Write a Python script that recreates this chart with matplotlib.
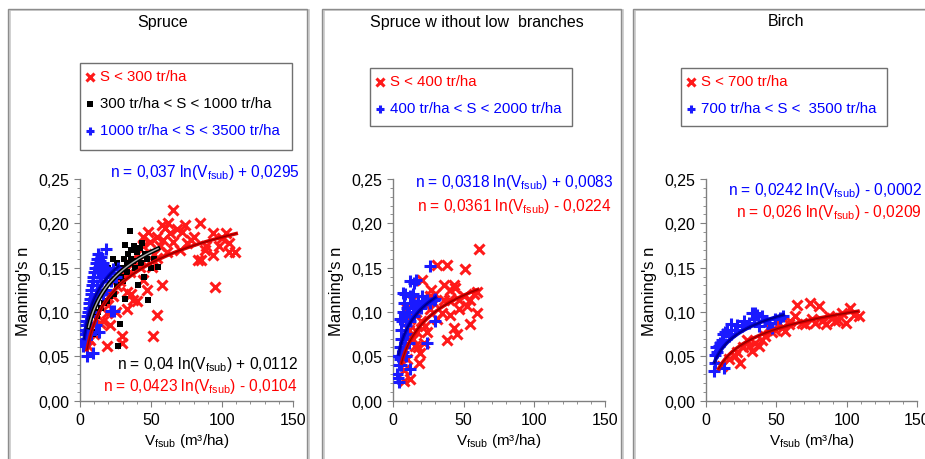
import numpy as np
import matplotlib
matplotlib.use("Agg")
import matplotlib.pyplot as plt
from matplotlib.patches import Rectangle
from matplotlib.lines import Line2D
from matplotlib.ticker import MultipleLocator

plt.rcParams["font.family"] = ["Liberation Sans", "DejaVu Sans"]
plt.rcParams["mathtext.fontset"] = "custom"
plt.rcParams["mathtext.rm"] = "Liberation Sans"

W, H = 925, 460

def px(x, y):
    return x / W, 1 - y / H

# ---- data ----
titles = ["Spruce", "Spruce w ithout low  branches", "Birch"]
yticks = [0.0, 0.05, 0.10, 0.15, 0.20, 0.25]
ytick_labels = ["0,00", "0,05", "0,10", "0,15", "0,20", "0,25"]
xticks = [0, 50, 100, 150]
xtick_labels = ["0", "50", "100", "150"]

# Spruce
sp_red = [(65.6, 0.215), (57.9, 0.198), (84.4, 0.2), (73.8, 0.198), (93.7, 0.189), (103, 0.189),
          (105, 0.178), (109, 0.168), (105, 0.168), (94, 0.164), (85.5, 0.159), (83, 0.159),
          (89, 0.174), (78.5, 0.181), (95, 0.128), (57.4, 0.13), (53.9, 0.097), (51.6, 0.073),
          (29.3, 0.065), (29.3, 0.073), (18.7, 0.062), (39.8, 0.112), (37.5, 0.113), (32.8, 0.103),
          (46.9, 0.125), (44.5, 0.136), (42.2, 0.151), (50.4, 0.151), (53.9, 0.161), (49.2, 0.179),
          (44.5, 0.185), (44.5, 0.174), (37.5, 0.155), (30.5, 0.144), (25.8, 0.129), (23.4, 0.118),
          (18.7, 0.099), (14, 0.088), (7, 0.069), (5.9, 0.062), (68, 0.194), (71.5, 0.19),
          (63.3, 0.189), (65.6, 0.179), (75, 0.178), (70.3, 0.17), (61, 0.168), (56.3, 0.174),
          (58.6, 0.181), (60, 0.195), (80, 0.185), (88, 0.17), (98, 0.175), (100, 0.183),
          (62, 0.2), (54, 0.185), (48, 0.19), (40, 0.165), (35, 0.145), (28, 0.135), (20, 0.108),
          (16, 0.09), (10, 0.075), (21, 0.085), (25, 0.1), (33, 0.123), (36, 0.12), (52, 0.165)]
sp_black = [(9, 0.075), (11, 0.078), (12, 0.095), (13, 0.1), (15, 0.105), (17, 0.11), (19, 0.112),
            (21, 0.118), (24, 0.12), (27, 0.062), (28, 0.086), (26, 0.13), (30, 0.135), (32, 0.115),
            (29, 0.14), (33, 0.145), (31, 0.16), (34, 0.165), (36, 0.17), (38, 0.175), (40, 0.168),
            (42, 0.172), (44, 0.178), (46, 0.165), (47, 0.16), (35, 0.191), (32, 0.176), (37, 0.158),
            (39, 0.15), (43, 0.155), (48, 0.114), (50, 0.15), (52, 0.16), (55, 0.151), (45, 0.14),
            (41, 0.13), (26, 0.155), (23, 0.16), (20, 0.15), (29, 0.15), (36, 0.16), (33, 0.155)]
sp_blue = [(2, 0.062), (2.5, 0.068), (3, 0.065), (3, 0.075), (3.5, 0.08), (4, 0.07), (4, 0.085),
           (4.5, 0.09), (5, 0.078), (5, 0.095), (5.5, 0.1), (6, 0.088), (6, 0.105), (6.5, 0.11),
           (7, 0.095), (7, 0.115), (7.5, 0.12), (8, 0.1), (8, 0.125), (8.5, 0.13), (9, 0.11),
           (9, 0.135), (9.5, 0.14), (10, 0.115), (10, 0.145), (10.5, 0.15), (11, 0.12), (11, 0.155),
           (12, 0.13), (12, 0.16), (12.5, 0.145), (13, 0.125), (13, 0.165), (13.5, 0.15), (14, 0.14),
           (14, 0.158), (15, 0.135), (15, 0.162), (16, 0.145), (16, 0.155), (17, 0.148), (18, 0.171),
           (18, 0.14), (19, 0.15), (20, 0.145), (21, 0.14), (22, 0.135), (23, 0.148), (24, 0.101),
           (22, 0.101), (13.5, 0.078), (9.5, 0.054), (5, 0.05), (8, 0.075), (11, 0.085), (16, 0.12),
           (18, 0.125), (25, 0.14), (27, 0.15)]

# Spruce without low branches
sl_red = [(61.2, 0.171), (51.1, 0.148), (31.1, 0.153), (38.1, 0.153), (20.5, 0.136), (35.8, 0.131),
          (42.9, 0.131), (40.5, 0.125), (44, 0.127), (46.4, 0.114), (54.6, 0.114), (59.3, 0.123),
          (59.3, 0.099), (54.6, 0.086), (42.9, 0.082), (45.4, 0.075), (38.1, 0.069), (40.5, 0.097),
          (39.3, 0.114), (28.7, 0.11), (31.1, 0.092), (24, 0.077), (21.7, 0.065), (19.3, 0.054),
          (18.1, 0.043), (12.2, 0.024), (7.5, 0.022), (13.4, 0.114), (9.9, 0.103), (12.2, 0.092),
          (17, 0.077), (15.5, 0.062), (9.9, 0.047), (22.8, 0.084), (26.4, 0.103), (24, 0.114),
          (52.3, 0.107), (57, 0.12), (49.9, 0.118), (46.4, 0.103), (35.8, 0.114), (34.6, 0.099),
          (26.4, 0.118), (16, 0.1), (20, 0.09), (14, 0.07), (18, 0.06), (11, 0.08), (30, 0.12),
          (8, 0.035), (27, 0.125)]
sl_blue = [(25.9, 0.152), (16.5, 0.136), (15, 0.133), (12.2, 0.135), (8.7, 0.12), (7, 0.121),
           (12.2, 0.118), (20.5, 0.118), (24, 0.114), (28.7, 0.114), (5.2, 0.092), (4, 0.021),
           (3.3, 0.026), (12.2, 0.036), (5.2, 0.047), (24, 0.065), (29.9, 0.09), (3, 0.03), (4, 0.04),
           (4.5, 0.05), (5, 0.06), (5.5, 0.07), (6, 0.08), (6.5, 0.09), (7, 0.1), (7.5, 0.11),
           (8, 0.06), (8.5, 0.07), (9, 0.085), (9.5, 0.095), (10, 0.105), (10, 0.075), (11, 0.1),
           (11, 0.065), (12, 0.09), (13, 0.11), (14, 0.1), (15, 0.095), (16, 0.108), (18, 0.112),
           (20, 0.105), (22, 0.11), (26, 0.11), (30, 0.115), (6, 0.04), (7, 0.055), (3.5, 0.05),
           (9, 0.05), (14, 0.12)]

# Birch
bi_red = [(64.7, 0.108), (74.2, 0.11), (80, 0.107), (102.6, 0.105), (108.5, 0.095), (87.2, 0.095),
          (96.7, 0.099), (91.9, 0.09), (77.7, 0.088), (70.6, 0.086), (63.5, 0.095), (58.8, 0.086),
          (54, 0.082), (49.3, 0.08), (42.2, 0.073), (35.1, 0.065), (30.3, 0.062), (24.4, 0.043),
          (20.9, 0.05), (16.1, 0.047), (11.4, 0.039), (29.1, 0.069), (37.4, 0.062), (46.9, 0.077),
          (56.4, 0.079), (67.9, 0.088), (82.5, 0.09), (89.6, 0.093), (99.5, 0.088), (105, 0.097),
          (39.8, 0.069), (32.7, 0.056), (26, 0.06), (60, 0.09), (85, 0.086), (94, 0.091),
          (75, 0.092), (45, 0.083), (52, 0.088), (22, 0.055)]
bi_blue = [(32.7, 0.099), (36.3, 0.097), (39.8, 0.095), (18, 0.087), (13.7, 0.077), (6.6, 0.052),
           (5.5, 0.034), (12.6, 0.037), (9, 0.062), (11.4, 0.069), (16.1, 0.073), (20.9, 0.08),
           (25.6, 0.084), (30.3, 0.088), (37.4, 0.084), (44.5, 0.088), (49.3, 0.092), (52.8, 0.093),
           (46.9, 0.082), (6.6, 0.043), (7, 0.06), (8, 0.055), (10, 0.065), (12, 0.075), (15, 0.08),
           (18, 0.075), (22, 0.085), (27, 0.09), (34, 0.092), (42, 0.09), (55, 0.095), (35, 0.099)]

# trend lines: (a, b, xmin, xmax) of n = a ln(V) + b
sp_fits = [("blue", 0.037, 0.0295, 3, 27), ("black", 0.04, 0.0112, 6, 55), ("red", 0.0423, -0.0104, 5, 110)]
sl_fits = [("blue", 0.0318, 0.0083, 4, 30), ("red", 0.0361, -0.0224, 6, 60)]
bi_fits = [("blue", 0.0242, -0.0002, 6, 55), ("red", 0.026, -0.0209, 9, 108)]

sp_eq = ["n = 0,037 ln(V$_{\\mathrm{fsub}}$) + 0,0295",
         "n = 0,04 ln(V$_{\\mathrm{fsub}}$) + 0,0112",
         "n = 0,0423 ln(V$_{\\mathrm{fsub}}$) - 0,0104"]
sl_eq = ["n = 0,0318 ln(V$_{\\mathrm{fsub}}$) + 0,0083",
         "n = 0,0361 ln(V$_{\\mathrm{fsub}}$) - 0,0224"]
bi_eq = ["n = 0,0242 ln(V$_{\\mathrm{fsub}}$) - 0,0002",
         "n = 0,026 ln(V$_{\\mathrm{fsub}}$) - 0,0209"]

sp_leg = ["S < 300 tr/ha", "300 tr/ha < S < 1000 tr/ha", "1000 tr/ha < S < 3500 tr/ha"]
sl_leg = ["S < 400 tr/ha", "400 tr/ha < S < 2000 tr/ha"]
bi_leg = ["S < 700 tr/ha", "700 tr/ha < S <  3500 tr/ha"]

RED = "#ff1a1a"
BLUE = "#1a1aff"
style = {
    "red": dict(marker="x", color=RED, ms=7, mew=2.2),
    "black": dict(marker="s", color="black", ms=5, mew=0),
    "blue": dict(marker="+", color=BLUE, ms=8, mew=2.2),
}
txtcol = {"red": "#ff0000", "black": "black", "blue": "#0000ff"}

fig = plt.figure(figsize=(W / 100, H / 100), dpi=100)

# panel frames
for x0, x1 in [(8, 307), (322, 621), (633, 945)]:
    fig.add_artist(Rectangle(px(x0 + 1.5, 475), (x1 - x0) / W, 464 / H, transform=fig.transFigure,
                             fill=False, ec="#c8c8c8", lw=1.2))
    fig.add_artist(Rectangle(px(x0, 473), (x1 - x0) / W, 463 / H, transform=fig.transFigure,
                             fill=False, ec="#8c8c8c", lw=1.0))

panels = [
    dict(left=80, right=293, title_x=163, title=titles[0],
         series=[("red", sp_red), ("black", sp_black), ("blue", sp_blue)], fits=sp_fits,
         legbox=(80, 64, 292, 151), leg=[("red", sp_leg[0]), ("black", sp_leg[1]), ("blue", sp_leg[2])],
         legy=[77, 104, 131],
         eqs=[(sp_eq[0], "blue", 300, 173), (sp_eq[1], "black", 298, 365), (sp_eq[2], "red", 298, 387)]),
    dict(left=393, right=605, title_x=477, title=titles[1],
         series=[("red", sl_red), ("blue", sl_blue)], fits=sl_fits,
         legbox=(370, 69, 572, 127), leg=[("red", sl_leg[0]), ("blue", sl_leg[1])], legy=[82, 109],
         eqs=[(sl_eq[0], "blue", 613, 183), (sl_eq[1], "red", 612, 207)]),
    dict(left=706, right=917, title_x=786, title=titles[2],
         series=[("red", bi_red), ("blue", bi_blue)], fits=bi_fits,
         legbox=(681, 69, 887, 127), leg=[("red", bi_leg[0]), ("blue", bi_leg[1])], legy=[82, 109],
         eqs=[(bi_eq[0], "blue", 922, 190), (bi_eq[1], "red", 922, 213)]),
]

top, bottom = 180, 401.7
for p in panels:
    l, b = px(p["left"], bottom)
    ax = fig.add_axes([l, b, (p["right"] - p["left"]) / W, (bottom - top) / H])
    for key, pts in p["series"]:
        xs, ys = zip(*pts)
        ax.plot(xs, ys, ls="none", **style[key], zorder=3)
    for key, a, c, x0, x1 in p["fits"]:
        xv = np.linspace(x0, x1, 100)
        yv = a * np.log(xv) + c
        if key == "black":
            ax.plot(xv, yv, color="black", lw=3.2, zorder=4)
            ax.plot(xv, yv, color="#b0b0b0", lw=1.0, zorder=5)
        elif key == "red":
            ax.plot(xv, yv, color="#e00000", lw=2.6, zorder=4)
            ax.plot(xv, yv, color="#900000", lw=0.9, zorder=5)
        else:
            ax.plot(xv, yv, color="#0000cc", lw=2.6, zorder=4)
            ax.plot(xv, yv, color="#000080", lw=0.9, zorder=5)
    ax.set_xlim(0, 150)
    ax.set_ylim(0, 0.25)
    ax.set_xticks(xticks)
    ax.set_xticklabels(xtick_labels)
    ax.set_yticks(yticks)
    ax.set_yticklabels(ytick_labels)
    ax.xaxis.set_minor_locator(MultipleLocator(10))
    ax.yaxis.set_minor_locator(MultipleLocator(0.01))
    for s in ["top", "right"]:
        ax.spines[s].set_visible(False)
    for s in ["left", "bottom"]:
        ax.spines[s].set_color("#808080")
        ax.spines[s].set_linewidth(1.0)
    ax.tick_params(which="major", length=4, color="#808080", labelsize=11.5, pad=4)
    ax.tick_params(which="minor", length=2.5, color="#808080")
    ax.set_ylabel("Manning's n", fontsize=12, labelpad=5)
    ax.set_xlabel("V$_{\\mathrm{fsub}}$ (m³/ha)", fontsize=11, labelpad=3)
    ax.patch.set_alpha(0)

    fig.text(*px(p["title_x"], 22), p["title"], ha="center", va="center", fontsize=11.5)

    x0, y0, x1, y1 = p["legbox"]
    fig.add_artist(Rectangle(px(x0, y1), (x1 - x0) / W, (y1 - y0) / H, transform=fig.transFigure,
                             fill=False, ec="#707070", lw=1.0))
    for (key, lab), yy in zip(p["leg"], p["legy"]):
        mx, my = px(x0 + 10, yy + 1)
        st = dict(style[key])
        st["ms"] = st["ms"] * 0.75
        fig.add_artist(Line2D([mx], [my], transform=fig.transFigure, ls="none", **st))
        fig.text(*px(x0 + 20, yy), lab, ha="left", va="center", fontsize=10.8, color=txtcol[key])

    for txt, key, xr, yy in p["eqs"]:
        fig.text(*px(xr, yy), txt, ha="right", va="center", fontsize=11.2, color=txtcol[key])

fig.savefig("out.png", dpi=100)
